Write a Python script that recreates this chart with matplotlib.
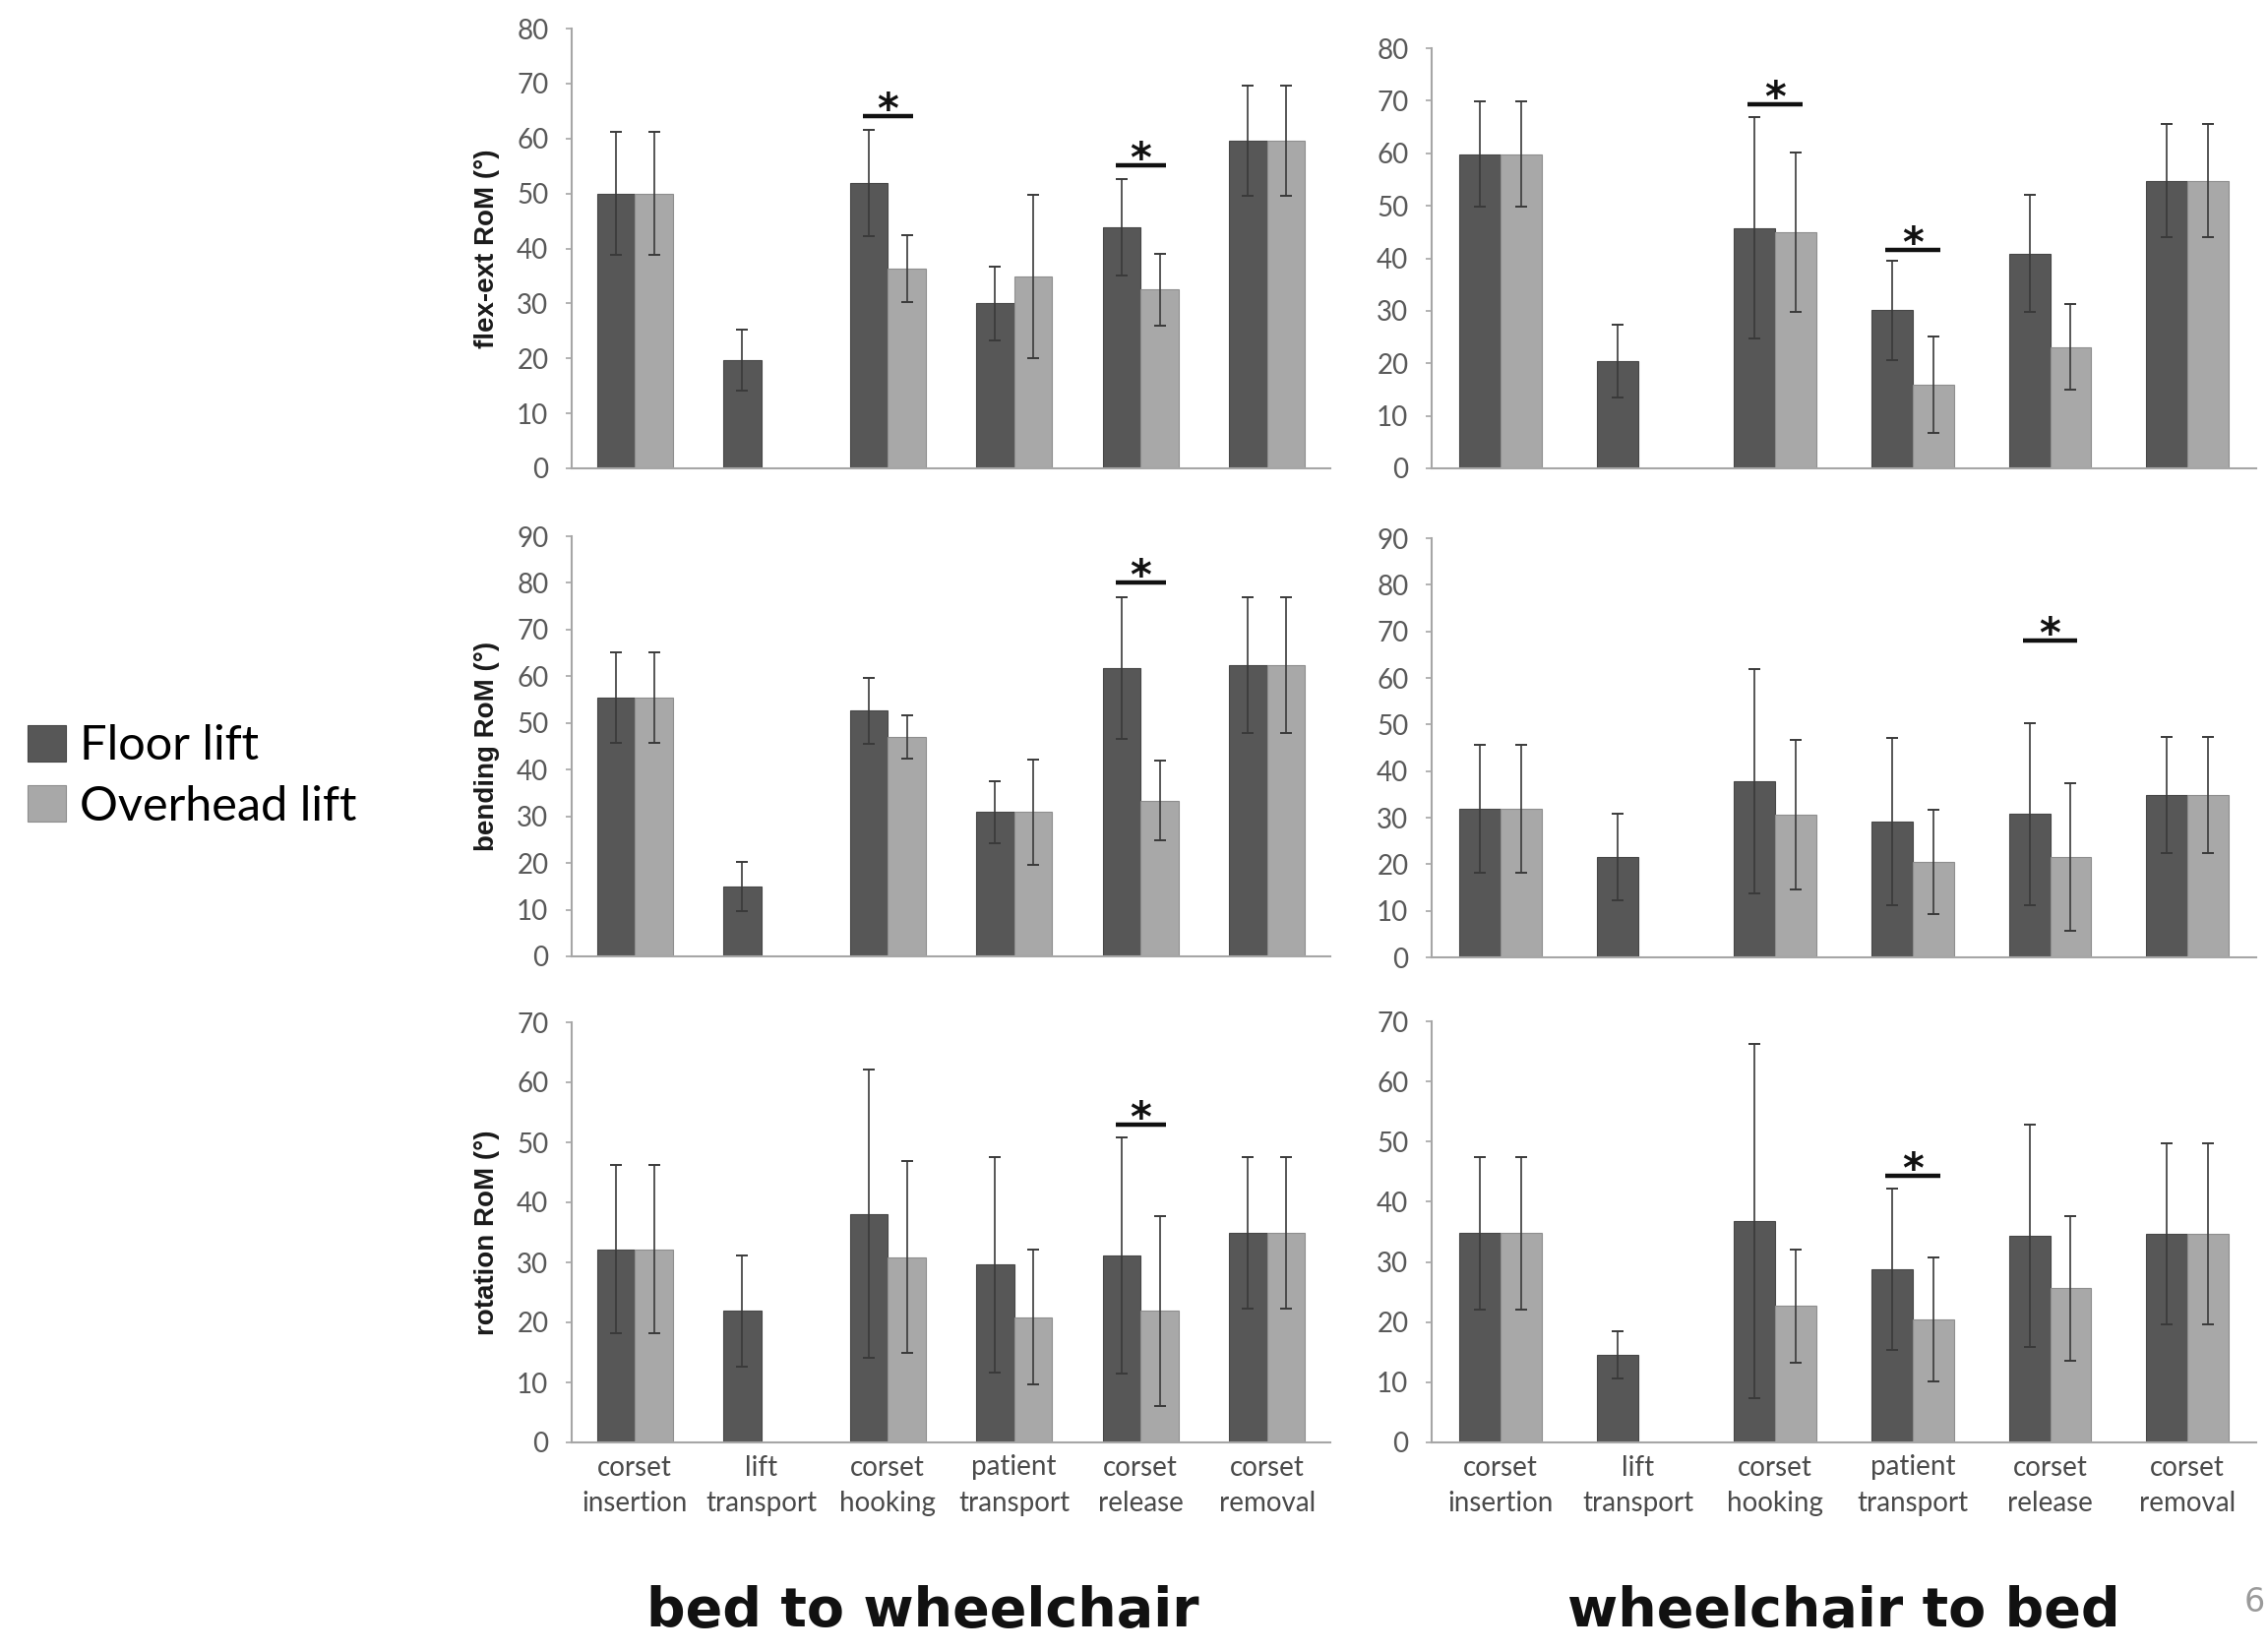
import numpy as np
import matplotlib
matplotlib.use("Agg")
import matplotlib.pyplot as plt

nan = np.nan

# ---------------- data ----------------
categories = ["corset\ninsertion", "lift\ntransport", "corset\nhooking",
              "patient\ntransport", "corset\nrelease", "corset\nremoval"]
series_names = ["Floor lift", "Overhead lift"]
row_labels = ["flex-ext RoM (°)", "bending RoM (°)", "rotation RoM (°)"]
column_titles = ["bed to wheelchair", "wheelchair to bed"]
row_ymax = [[80, 80], [90, 90], [70, 70]]

# bed to wheelchair – flexion/extension
bw_flex_floor = [50.0, 19.7, 51.9, 30.0, 43.9, 59.6]
bw_flex_floor_sd = [11.2, 5.5, 9.6, 6.7, 8.8, 10.0]
bw_flex_over = [50.0, nan, 36.4, 34.9, 32.5, 59.6]
bw_flex_over_sd = [11.2, nan, 6.1, 14.8, 6.6, 10.0]
bw_flex_sig = [(2, 64.0), (4, 55.1)]

# wheelchair to bed – flexion/extension
wb_flex_floor = [59.8, 20.4, 45.8, 30.1, 40.9, 54.8]
wb_flex_floor_sd = [10.0, 6.9, 21.0, 9.5, 11.1, 10.8]
wb_flex_over = [59.8, nan, 44.9, 15.9, 23.1, 54.8]
wb_flex_over_sd = [10.0, nan, 15.2, 9.2, 8.1, 10.8]
wb_flex_sig = [(2, 69.3), (3, 41.6)]

# bed to wheelchair – bending
bw_bend_floor = [55.4, 15.0, 52.6, 30.9, 61.7, 62.4]
bw_bend_floor_sd = [9.7, 5.3, 7.1, 6.6, 15.2, 14.5]
bw_bend_over = [55.4, nan, 47.0, 30.9, 33.4, 62.4]
bw_bend_over_sd = [9.7, nan, 4.7, 11.3, 8.5, 14.5]
bw_bend_sig = [(4, 80.0)]

# wheelchair to bed – bending
wb_bend_floor = [31.9, 21.6, 37.8, 29.2, 30.8, 34.8]
wb_bend_floor_sd = [13.8, 9.3, 24.0, 18.0, 19.5, 12.5]
wb_bend_over = [31.9, nan, 30.6, 20.5, 21.6, 34.8]
wb_bend_over_sd = [13.8, nan, 16.0, 11.2, 15.8, 12.5]
wb_bend_sig = [(4, 68.1)]

# bed to wheelchair – rotation
bw_rot_floor = [32.2, 21.9, 38.1, 29.6, 31.2, 34.9]
bw_rot_floor_sd = [14.0, 9.2, 24.0, 18.0, 19.7, 12.6]
bw_rot_over = [32.2, nan, 30.9, 20.9, 21.9, 34.9]
bw_rot_over_sd = [14.0, nan, 16.0, 11.3, 15.8, 12.6]
bw_rot_sig = [(4, 53.0)]

# wheelchair to bed – rotation
wb_rot_floor = [34.8, 14.5, 36.8, 28.8, 34.4, 34.7]
wb_rot_floor_sd = [12.7, 3.9, 29.5, 13.4, 18.5, 15.1]
wb_rot_over = [34.8, nan, 22.7, 20.4, 25.6, 34.7]
wb_rot_over_sd = [12.7, nan, 9.4, 10.3, 12.0, 15.1]
wb_rot_sig = [(3, 44.3)]

panels = [
    [(bw_flex_floor, bw_flex_floor_sd, bw_flex_over, bw_flex_over_sd, bw_flex_sig),
     (wb_flex_floor, wb_flex_floor_sd, wb_flex_over, wb_flex_over_sd, wb_flex_sig)],
    [(bw_bend_floor, bw_bend_floor_sd, bw_bend_over, bw_bend_over_sd, bw_bend_sig),
     (wb_bend_floor, wb_bend_floor_sd, wb_bend_over, wb_bend_over_sd, wb_bend_sig)],
    [(bw_rot_floor, bw_rot_floor_sd, bw_rot_over, bw_rot_over_sd, bw_rot_sig),
     (wb_rot_floor, wb_rot_floor_sd, wb_rot_over, wb_rot_over_sd, wb_rot_sig)],
]

# ---------------- style ----------------
DARK = "#575757"
DARK_EDGE = "#474747"
LIGHT = "#a8a8a8"
LIGHT_EDGE = "#8e8e8e"
AXIS = "#a6a6a6"
TICKTXT = "#595959"
TICKFONT = ["Lato", "DejaVu Sans"]

W, H = 2305, 1679
fig = plt.figure(figsize=(W / 100, H / 100), dpi=100)

# axes rectangles in pixels (left, right, top, bottom)
rects_px = [
    [(581, 1352, 29, 476), (1455, 2293, 49, 476)],
    [(581, 1352, 545, 972), (1455, 2293, 547, 973)],
    [(581, 1352, 1039, 1466), (1455, 2293, 1038, 1466)],
]

x = np.arange(len(categories))
bw = 0.3
legend_handles = None

for r in range(3):
    for c in range(2):
        l, rr, t, b = rects_px[r][c]
        ax = fig.add_axes([l / W, 1 - b / H, (rr - l) / W, (b - t) / H])
        floor, floor_sd, over, over_sd, sig = panels[r][c]
        b1 = ax.bar(x - bw / 2, floor, bw, color=DARK, edgecolor=DARK_EDGE,
                    linewidth=0.8, zorder=2)
        b2 = ax.bar(x + bw / 2, over, bw, color=LIGHT, edgecolor=LIGHT_EDGE,
                    linewidth=0.8, zorder=2)
        if legend_handles is None:
            legend_handles = [b1, b2]
        ax.errorbar(x - bw / 2, floor, yerr=floor_sd, fmt="none", ecolor="#3a3a3a",
                    elinewidth=1.2, capsize=4, capthick=1.4, zorder=3)
        ax.errorbar(x + bw / 2, over, yerr=over_sd, fmt="none", ecolor="#3a3a3a",
                    elinewidth=1.2, capsize=4, capthick=1.4, zorder=3)
        for (ci, yline) in sig:
            ax.plot([ci - 0.2, ci + 0.2], [yline, yline], color="#111111",
                    lw=3.2, solid_capstyle="butt", zorder=4, clip_on=False)
            ax.annotate("*", xy=(ci, yline), xytext=(0, -5), textcoords="offset points",
                        ha="center", va="baseline", fontsize=30, fontweight="bold",
                        family="DejaVu Sans", color="#111111", annotation_clip=False)
        ymax = row_ymax[r][c]
        ax.set_ylim(0, ymax)
        ax.set_yticks(np.arange(0, ymax + 1, 10))
        ax.set_xlim(-0.5, len(categories) - 0.5)
        for s in ["top", "right"]:
            ax.spines[s].set_visible(False)
        for s in ["left", "bottom"]:
            ax.spines[s].set_color(AXIS)
            ax.spines[s].set_linewidth(1.5)
        ax.tick_params(axis="y", direction="out", length=4, width=1.2, color=AXIS,
                       pad=13, labelsize=20, labelcolor=TICKTXT)
        for lab in ax.get_yticklabels():
            lab.set_family(TICKFONT)
        ax.set_xticks(x)
        if r == 2:
            ax.set_xticklabels(categories, fontsize=20, color="#4a4a4a",
                               family=TICKFONT, linespacing=1.5)
            ax.tick_params(axis="x", length=0, pad=9)
        else:
            ax.set_xticklabels([])
            ax.tick_params(axis="x", length=0)
        if c == 0:
            ax.set_ylabel(row_labels[r], fontsize=20, fontweight="bold",
                          family=["Liberation Sans", "DejaVu Sans"], color="#1a1a1a")
            ax.yaxis.set_label_coords(-0.095, 0.5)

# legend
fig.legend(legend_handles, series_names, loc="upper left",
           bbox_to_anchor=(0.012, 1 - 736 / H), frameon=False,
           prop={"family": ["Lato", "DejaVu Sans"], "size": 35},
           handlelength=0.8, handleheight=0.8, handletextpad=0.3,
           labelspacing=0.36, borderaxespad=0, borderpad=0)

# column titles
fig.text(938 / W, 1 - 1638 / H, column_titles[0], ha="center", va="center",
         fontsize=40, fontweight="bold", family="DejaVu Sans", color="#111111")
fig.text(1874 / W, 1 - 1638 / H, column_titles[1], ha="center", va="center",
         fontsize=40, fontweight="bold", family="DejaVu Sans", color="#111111")

# slide page number
fig.text(2302 / W, 1 - 1629 / H, "6", ha="right", va="center", fontsize=24,
         color="#9a9a9a", family="DejaVu Sans")

fig.savefig("out.png", dpi=100, facecolor="white")
